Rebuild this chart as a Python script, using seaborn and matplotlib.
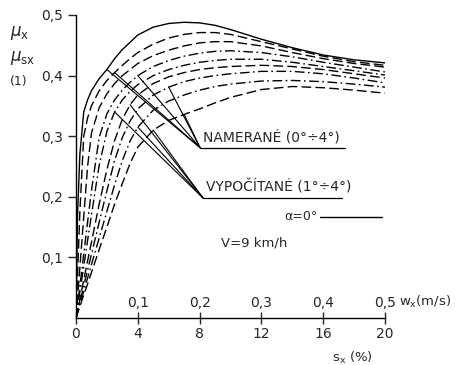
import numpy as np
import pandas as pd
import matplotlib
matplotlib.use("Agg")
import matplotlib.pyplot as plt
import seaborn as sns

# slip s_x (%) grid
s_x = [0, 0.1, 0.25, 0.5, 0.75, 1, 1.5, 2, 2.5, 3, 3.5, 4, 5, 6, 7, 8, 9, 10, 12, 14, 16, 18, 20]

mu_c1 = [0, 0.17, 0.27, 0.34, 0.36, 0.375, 0.395, 0.41, 0.428, 0.443, 0.455, 0.467, 0.48, 0.486, 0.488, 0.487, 0.483, 0.476, 0.46, 0.446, 0.434, 0.426, 0.421]
mu_c2 = [0, 0.07, 0.175, 0.3, 0.33, 0.35, 0.375, 0.392, 0.405, 0.417, 0.428, 0.438, 0.452, 0.462, 0.468, 0.471, 0.471, 0.468, 0.456, 0.444, 0.432, 0.423, 0.417]
mu_c3 = [0, 0.033, 0.083, 0.167, 0.25, 0.305, 0.347, 0.37, 0.387, 0.4, 0.41, 0.42, 0.433, 0.442, 0.449, 0.454, 0.456, 0.456, 0.449, 0.438, 0.428, 0.42, 0.414]
mu_c4 = [0, 0.021, 0.053, 0.105, 0.158, 0.21, 0.298, 0.337, 0.36, 0.376, 0.389, 0.4, 0.415, 0.425, 0.432, 0.437, 0.44, 0.441, 0.438, 0.431, 0.422, 0.414, 0.406]
mu_c5 = [0, 0.017, 0.043, 0.085, 0.128, 0.17, 0.252, 0.308, 0.34, 0.36, 0.374, 0.385, 0.4, 0.41, 0.417, 0.422, 0.425, 0.427, 0.427, 0.422, 0.415, 0.408, 0.401]
mu_c6 = [0, 0.0125, 0.031, 0.063, 0.094, 0.125, 0.188, 0.245, 0.293, 0.328, 0.352, 0.368, 0.387, 0.398, 0.405, 0.41, 0.413, 0.415, 0.417, 0.415, 0.41, 0.403, 0.396]
mu_c7 = [0, 0.011, 0.026, 0.053, 0.079, 0.105, 0.158, 0.21, 0.26, 0.298, 0.325, 0.345, 0.368, 0.381, 0.39, 0.396, 0.4, 0.403, 0.407, 0.407, 0.403, 0.396, 0.388]
mu_c8 = [0, 0.009, 0.022, 0.044, 0.066, 0.088, 0.132, 0.176, 0.22, 0.26, 0.292, 0.315, 0.343, 0.358, 0.368, 0.376, 0.382, 0.386, 0.391, 0.392, 0.39, 0.386, 0.381]
mu_c9 = [0, 0.0075, 0.019, 0.038, 0.056, 0.075, 0.113, 0.15, 0.188, 0.222, 0.255, 0.282, 0.31, 0.326, 0.336, 0.345, 0.355, 0.364, 0.377, 0.382, 0.38, 0.376, 0.371]

curve_names = ["c1", "c2", "c3", "c4", "c5", "c6", "c7", "c8", "c9"]
curve_kind = ["solid", "meas", "meas", "calc", "calc", "meas", "calc", "calc", "meas"]

s_ticks = [0, 4, 8, 12, 16, 20]
s_tick_labels = ["0", "4", "8", "12", "16", "20"]
wx_labels = ["0,1", "0,2", "0,3", "0,4", "0,5"]
mu_ticks = [0.1, 0.2, 0.3, 0.4, 0.5]
mu_tick_labels = ["0,1", "0,2", "0,3", "0,4", "0,5"]

curves = [mu_c1, mu_c2, mu_c3, mu_c4, mu_c5, mu_c6, mu_c7, mu_c8, mu_c9]
rows = []
for name, vals in zip(curve_names, curves):
    for s, m in zip(s_x, vals):
        rows.append({"s": s, "mu": m, "curve": name})
df = pd.DataFrame(rows)

sns.set_style("white")
plt.rcParams["font.family"] = ["DejaVu Sans"]

W, H = 458, 365
fig = plt.figure(figsize=(W / 100, H / 100), dpi=100)
ax = fig.add_axes([76 / W, 1 - 318 / H, (385 - 76) / W, (318 - 15) / H])

dash_map = {"solid": "", "meas": (7, 3), "calc": (7, 2.5, 1.2, 2.5)}
dashes = {n: dash_map[k] for n, k in zip(curve_names, curve_kind)}
palette = {n: "black" for n in curve_names}

sns.lineplot(data=df, x="s", y="mu", hue="curve", style="curve", palette=palette,
             dashes=dashes, linewidth=1.0, legend=False, ax=ax, sort=False)

ax.set_xlim(0, 20)
ax.set_ylim(0, 0.5)
ax.set_xlabel("")
ax.set_ylabel("")
for sp in ["top", "right"]:
    ax.spines[sp].set_visible(False)
for sp in ["left", "bottom"]:
    ax.spines[sp].set_color("black")
    ax.spines[sp].set_linewidth(1.0)

ax.set_yticks(mu_ticks)
ax.set_yticklabels(mu_tick_labels, fontsize=10)
ax.tick_params(axis="y", direction="out", length=6, width=1.0, pad=3, left=True)
ax.set_xticks(s_ticks)
ax.set_xticklabels(s_tick_labels, fontsize=10)
ax.tick_params(axis="x", direction="inout", length=9, width=1.0, pad=2, bottom=True)

# upper scale w_x on the same axis line
for s, lab in zip(s_ticks[1:], wx_labels):
    ax.annotate(lab, xy=(s, 0), xytext=(0, 6), textcoords="offset points",
                ha="center", va="bottom", fontsize=10)
ax.annotate(r"w$_\mathregular{x}$(m/s)", xy=(20, 0), xytext=(10, 6), textcoords="offset points",
            ha="left", va="bottom", fontsize=9.5, annotation_clip=False)
fig.text(352 / W, 1 - 358 / H, r"s$_\mathregular{x}$ (%)", ha="center", va="center", fontsize=9.5)

# y-axis symbols
fig.text(10 / W, 1 - 33 / H, r"$\mu_\mathregular{x}$", ha="left", va="center", fontsize=12)
fig.text(10 / W, 1 - 58 / H, r"$\mu_\mathregular{sx}$", ha="left", va="center", fontsize=12)
fig.text(10 / W, 1 - 82 / H, "(1)", ha="left", va="center", fontsize=9)

# leader lines and labels
meas_anchor = (8.03, 0.281)
calc_anchor = (8.22, 0.198)
meas_starts = [(0, 7), (1, 8), (3, 11), (6, 13), (8, 14)]
calc_starts = [(4, 8), (5, 10), (7, 11), (8, 12)]
for ci, si in meas_starts:
    ax.plot([s_x[si], meas_anchor[0]], [curves[ci][si], meas_anchor[1]], color="black", lw=0.8)
for ci, si in calc_starts:
    ax.plot([s_x[si], calc_anchor[0]], [curves[ci][si], calc_anchor[1]], color="black", lw=0.8)
ax.plot([meas_anchor[0], 17.4], [meas_anchor[1], meas_anchor[1]], color="black", lw=0.9)
ax.plot([calc_anchor[0], 17.2], [calc_anchor[1], calc_anchor[1]], color="black", lw=0.9)
ax.text(8.2, meas_anchor[1] + 0.005, "NAMERANÉ (0°÷4°)", ha="left", va="bottom", fontsize=10)
ax.text(8.4, calc_anchor[1] + 0.005, "VYPOČÍTANÉ (1°÷4°)", ha="left", va="bottom", fontsize=10)

ax.text(15.65, 0.167, "α=0°", ha="right", va="center", fontsize=9)
ax.plot([15.8, 19.8], [0.167, 0.167], color="black", lw=1.0)
ax.text(9.4, 0.124, "V=9 km/h", ha="left", va="center", fontsize=9.5)

fig.savefig("out.png", dpi=100)
